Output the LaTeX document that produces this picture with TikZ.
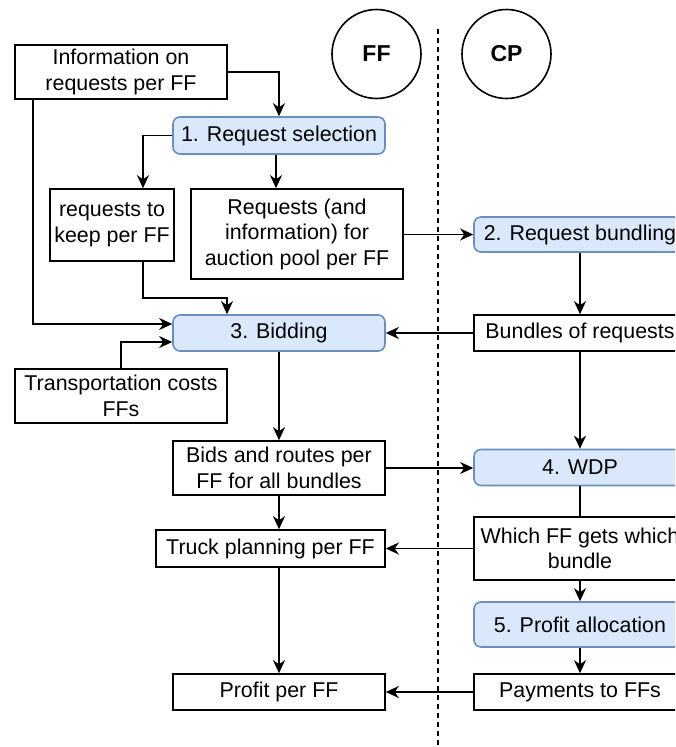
\documentclass[tikz,border=0pt]{standalone}
\usepackage{fontspec}
\setmainfont{Liberation Sans}
\usetikzlibrary{arrows.meta,calc}
\definecolor{bluefill}{HTML}{DAE8FC}
\definecolor{bluedraw}{HTML}{6C8EBF}
\begin{document}
\begin{tikzpicture}[x=1pt,y=-1pt,
  every node/.style={font=\fontsize{21.4}{25.5}\selectfont, align=center, inner sep=0pt},
  plainbox/.style={draw=black, line width=1.6pt, fill=white},
  stepbox/.style={draw=bluedraw, line width=1.6pt, fill=bluefill, rounded corners=7pt},
  actor/.style={draw=black, line width=1.6pt, circle, minimum size=89pt, font=\fontsize{23}{27}\selectfont\bfseries},
  conn/.style={line width=1.6pt, -{Stealth[length=13pt,width=12pt,inset=4pt]}},
  plainconn/.style={line width=1.6pt},
  divider/.style={line width=1.2pt, dash pattern=on 5pt off 4pt}
]
\useasboundingbox (0,0) rectangle (675,747);
\clip (0,0) rectangle (675,747);

% actors
\node[actor] (ff) at (376.5,54) {FF};
\node[actor] (cp) at (506.5,54) {CP};
\coordinate (dtop) at (438,29);
\coordinate (dbot) at (438,747);
\draw[divider] (dtop) -- (dbot);

% left column
\node[plainbox, minimum width=212pt, minimum height=54pt] (info) at (121,72) {Information on\\requests per FF};
\node[stepbox, minimum width=212pt, minimum height=37pt] (reqsel) at (279,135.5) {1. Request selection};
\node[plainbox, minimum width=124pt, minimum height=72pt] (keep) at (112,225) {requests to\\keep per FF};
\node[plainbox, minimum width=212pt, minimum height=90pt] (pool) at (297,234) {Requests (and\\information) for\\auction pool per FF};
\node[stepbox, minimum width=212pt, minimum height=36pt] (bidding) at (279,333) {3. Bidding};
\node[plainbox, minimum width=212pt, minimum height=54pt] (transport) at (121,396) {Transportation costs\\FFs};
\node[plainbox, minimum width=212pt, minimum height=54pt] (bids) at (279,468) {Bids and routes per\\FF for all bundles};
\node[plainbox, minimum width=229pt, minimum height=37pt] (truck) at (270.5,548.5) {Truck planning per FF};
\node[plainbox, minimum width=212pt, minimum height=36pt] (profit) at (279,692) {Profit per FF};

% right column
\node[stepbox, minimum width=212pt, minimum height=35pt] (bundling) at (580,234.5) {2. Request bundling};
\node[plainbox, minimum width=212pt, minimum height=36pt] (bundles) at (580,333) {Bundles of requests};
\node[stepbox, minimum width=212pt, minimum height=36pt] (wdp) at (580,467.5) {4. WDP};
\node[plainbox, minimum width=212pt, minimum height=63pt] (which) at (580,548.5) {Which FF gets which\\bundle};
\node[stepbox, minimum width=212pt, minimum height=45pt] (alloc) at (580,624.5) {5. Profit allocation};
\node[plainbox, minimum width=212pt, minimum height=36pt] (pay) at (580,692) {Payments to FFs};

% connectors
\draw[conn] (info.east) -| (reqsel.north);
\draw[conn] (reqsel.west) -| ([xshift=31pt]keep.north);
\draw[conn] ([xshift=-3pt]reqsel.south) -- ([xshift=-3pt]reqsel.south |- pool.north);
\draw[conn] ([xshift=31pt]keep.south) -- ++(0,36) -| ([xshift=-52pt]bidding.north);
\draw[conn] ([xshift=-88pt]info.south) |- ([yshift=9pt]bidding.west);
\draw[conn] (transport.north) |- ([yshift=-9pt]bidding.west);
\draw[conn] (pool.east |- bundling.west) -- (bundling.west);
\draw[conn] (bundling.south) -- (bundles.north);
\draw[conn] (bundles.west) -- (bidding.east);
\draw[conn] (bidding.south) -- (bids.north);
\draw[conn] (bundles.south) -- (wdp.north);
\draw[conn] (bids.east) -- (bids.east -| wdp.west);
\draw[conn] (bids.south) -- (bids.south |- truck.north);
\draw[plainconn] (wdp.south) -- (which.north);
\draw[conn] (which.west) -- (which.west -| truck.east);
\draw[conn] (which.south) -- (alloc.north);
\draw[conn] (alloc.south) -- (pay.north);
\draw[conn] (pay.west) -- (profit.east);
\draw[conn] (truck.south -| profit.north) -- (profit.north);
\end{tikzpicture}
\end{document}
